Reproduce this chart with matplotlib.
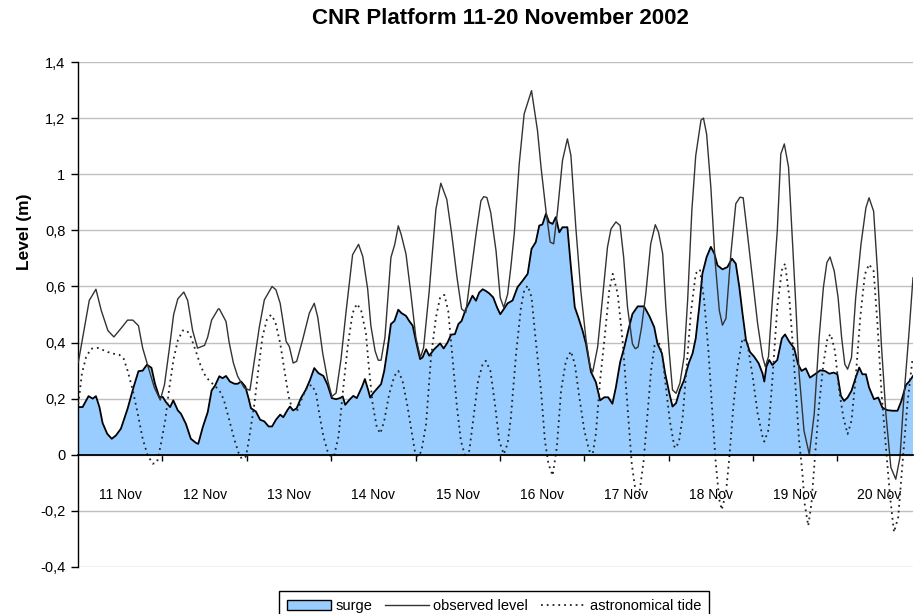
import matplotlib
matplotlib.use("Agg")
import matplotlib.pyplot as plt
from matplotlib.patches import Patch
from matplotlib.lines import Line2D

plt.rcParams['font.family'] = ['Liberation Sans', 'DejaVu Sans']

# ---------------- data (hours since 11 Nov 00:00, level in m) ----------------
obs_h = [0.1, 3.2, 5.1, 6.6, 8.5, 10.2, 12.2, 14.1, 15.6, 17.2, 18.4, 19.8, 21.7, 23.4, 24.6, 26.0,
         27.2, 28.4, 30.1, 31.2, 32.6, 34.0, 36.0, 36.9, 38.0, 39.9, 40.2, 42.1, 43.0, 44.2, 45.4,
         47.3, 48.9, 50.2, 51.6, 53.0, 55.2, 56.3, 57.5, 59.2, 60.1, 61.2, 62.2, 63.9, 65.8, 67.2,
         68.2, 69.6, 71.0, 72.2, 73.4, 74.8, 76.2, 78.1, 79.8, 81.0, 82.4, 83.3, 84.5, 85.4, 86.2,
         87.3, 89.0, 90.1, 91.1, 91.9, 93.3, 94.7, 96.1, 97.4, 98.3, 99.9, 101.8, 103.2, 104.9,
         106.3, 107.8, 109.1, 110.3, 111.8, 113.2, 114.6, 115.4, 116.3, 117.4, 118.9, 120.1, 121.1,
         122.2, 123.1, 124.1, 125.5, 126.9, 129.0, 130.7, 131.7, 133.1, 134.3, 135.3, 136.4, 137.8,
         139.2, 140.2, 141.6, 143.0, 144.5, 145.7, 146.4, 147.8, 149.2, 150.6, 151.6, 153.0, 154.2,
         155.2, 156.3, 157.7, 158.5, 159.3, 160.3, 161.5, 162.9, 164.2, 165.1, 166.3, 167.2, 168.2,
         169.1, 170.1, 171.2, 172.4, 173.4, 174.6, 175.7, 177.2, 177.9, 178.8, 180.0, 181.2, 182.4,
         183.3, 184.3, 185.7, 187.1, 188.3, 189.2, 190.4, 191.9, 193.3, 194.7, 195.5, 196.4, 197.5,
         198.9, 199.9, 200.9, 202.1, 203.2, 204.2, 205.1, 206.5, 208.0, 209.4, 210.8, 212.0, 213.0,
         213.9, 215.1, 216.2, 217.2, 218.1, 218.9, 220.0, 221.2, 222.7, 224.1, 225.0, 226.3, 227.4,
         228.5, 229.8, 231.2, 232.6, 233.8, 234.9, 236.4, 237.5]
obs_v = [0.33, 0.55, 0.59, 0.515, 0.443, 0.42, 0.45, 0.48, 0.48, 0.46, 0.38, 0.32, 0.24, 0.195, 0.25, 0.38,
         0.50, 0.556, 0.58, 0.55, 0.443, 0.38, 0.39, 0.42, 0.48, 0.52, 0.52, 0.475, 0.40, 0.327, 0.28,
         0.238, 0.23, 0.34, 0.457, 0.552, 0.60, 0.588, 0.54, 0.404, 0.386, 0.327, 0.333, 0.41, 0.505, 0.54,
         0.49, 0.362, 0.267, 0.208, 0.22, 0.34, 0.505, 0.713, 0.75, 0.707, 0.59, 0.46, 0.37, 0.337, 0.337,
         0.418, 0.703, 0.75, 0.816, 0.786, 0.715, 0.572, 0.418, 0.347, 0.382, 0.584, 0.875, 0.968, 0.91,
         0.786, 0.632, 0.52, 0.507, 0.65, 0.786, 0.905, 0.92, 0.917, 0.863, 0.727, 0.56, 0.525,
         0.572, 0.667, 0.79, 1.037, 1.215, 1.298, 1.155, 1.025, 0.87, 0.758, 0.752, 0.87, 1.049,
         1.126, 1.067, 0.81, 0.586, 0.41, 0.312, 0.295, 0.384, 0.56, 0.74, 0.805, 0.83, 0.817,
         0.704, 0.526, 0.395, 0.378, 0.384, 0.455, 0.574, 0.752, 0.82, 0.794, 0.717, 0.527, 0.361,
         0.231, 0.219, 0.255, 0.35, 0.551, 0.871, 1.066, 1.193, 1.2, 1.143, 0.954, 0.693, 0.515,
         0.462, 0.486, 0.717, 0.895, 0.918, 0.916, 0.788, 0.622, 0.468, 0.35, 0.314, 0.35, 0.551,
         0.80, 1.072, 1.108, 1.025, 0.764, 0.527, 0.29, 0.085, 0.002, 0.145, 0.418, 0.595, 0.685,
         0.705, 0.655, 0.56, 0.418, 0.323, 0.305, 0.346, 0.56, 0.75, 0.88, 0.916, 0.868, 0.655,
         0.394, 0.145, -0.045, -0.087, -0.009, 0.204, 0.441, 0.631]

surge_h = [0.1, 1.3, 3.0, 4.2, 5.1, 6.1, 7.0, 8.3, 9.6, 10.8, 12.2, 14.1, 15.8, 17.2, 18.4, 19.6, 20.9,
           21.9, 23.1, 24.1, 25.0, 26.2, 27.1, 28.4, 29.3, 30.7, 32.1, 33.6, 34.2, 35.5, 36.9, 38.0,
           39.0, 40.2, 41.1, 42.1, 43.2, 44.5, 45.4, 46.4, 47.6, 48.5, 49.2, 50.6, 51.8, 53.0, 54.2,
           55.2, 56.3, 57.5, 58.4, 59.6, 60.3, 61.2, 62.2, 63.4, 64.8, 66.0, 67.2, 68.4, 69.8, 71.0,
           72.2, 73.4, 74.5, 75.3, 76.0, 77.2, 78.3, 79.3, 80.8, 81.6, 82.6, 83.1, 84.1, 85.2, 86.2,
           87.1, 88.1, 89.0, 90.0, 91.1, 92.0, 93.3, 94.2, 95.2, 96.1, 97.3, 98.0, 99.0, 99.9, 101.3,
           103.0, 104.0, 105.1, 106.1, 107.2, 108.2, 109.1, 110.3, 111.3, 112.2, 113.2, 114.1, 115.1,
           116.0, 117.0, 118.1, 119.2, 120.1, 121.1, 122.2, 123.6, 125.0, 126.5, 127.9, 129.0, 130.2,
           131.2, 132.1, 133.1, 134.0, 135.0, 135.9, 136.9, 137.8, 139.2, 140.2, 141.3, 142.3, 143.5,
           144.5, 145.9, 147.3, 148.5, 149.7, 150.8, 152.0, 153.0, 154.2, 155.4, 156.5, 157.7, 159.2,
           161.0, 162.5, 163.9, 164.8, 166.1, 167.0, 168.2, 169.1, 170.1, 171.2, 172.4, 173.7, 174.8,
           175.7, 176.7, 177.6, 178.8, 180.0, 181.0, 181.9, 183.3, 184.7, 186.0, 187.1, 188.1, 189.0,
           190.0, 191.1, 192.3, 193.6, 194.7, 195.2, 195.8, 196.6, 197.5, 198.9, 200.2, 201.1, 202.3,
           203.7, 204.8, 205.8, 207.0, 208.2, 209.6, 211.1, 212.4, 213.7, 214.9, 216.0, 217.0, 217.9,
           218.9, 220.0, 221.2, 222.2, 223.1, 224.1, 225.0, 226.4, 227.6, 228.8, 230.2, 231.7, 233.1,
           234.2, 235.5, 236.4, 237.5]
surge_v = [0.17, 0.17, 0.209, 0.20, 0.209, 0.17, 0.113, 0.075, 0.057, 0.069, 0.093, 0.164, 0.241, 0.298,
           0.30, 0.321, 0.31, 0.253, 0.206, 0.206, 0.188, 0.17, 0.194, 0.158, 0.146, 0.11, 0.057, 0.042,
           0.039, 0.099, 0.152, 0.229, 0.247, 0.28, 0.273, 0.281, 0.261, 0.253, 0.253, 0.261, 0.243,
           0.202, 0.166, 0.154, 0.125, 0.119, 0.101, 0.101, 0.125, 0.143, 0.134, 0.16, 0.172, 0.158,
           0.166, 0.202, 0.232, 0.267, 0.309, 0.291, 0.281, 0.249, 0.202, 0.198, 0.202, 0.208, 0.178,
           0.196, 0.21, 0.202, 0.243, 0.27, 0.228, 0.204, 0.222, 0.238, 0.252, 0.299, 0.382, 0.466,
           0.477, 0.517, 0.505, 0.495, 0.477, 0.46, 0.406, 0.341, 0.347, 0.376, 0.353, 0.376, 0.397,
           0.379, 0.40, 0.428, 0.43, 0.466, 0.477, 0.519, 0.543, 0.567, 0.549, 0.578, 0.59, 0.584,
           0.575, 0.561, 0.525, 0.501, 0.519, 0.54, 0.55, 0.597, 0.621, 0.645, 0.734, 0.758, 0.817,
           0.821, 0.859, 0.829, 0.823, 0.847, 0.793, 0.811, 0.811, 0.669, 0.526, 0.49, 0.443, 0.395,
           0.295, 0.259, 0.194, 0.205, 0.205, 0.182, 0.241, 0.33, 0.384, 0.443, 0.502, 0.529, 0.529,
           0.495, 0.455, 0.397, 0.361, 0.29, 0.219, 0.172, 0.184, 0.231, 0.267, 0.326, 0.361, 0.415,
           0.527, 0.646, 0.705, 0.741, 0.717, 0.675, 0.661, 0.669, 0.699, 0.681, 0.598, 0.504, 0.409,
           0.367, 0.35, 0.326, 0.29, 0.261, 0.314, 0.338, 0.32, 0.338, 0.415, 0.429, 0.403, 0.38,
           0.323, 0.299, 0.308, 0.275, 0.287, 0.301, 0.299, 0.289, 0.293, 0.287, 0.21, 0.192, 0.204,
           0.228, 0.275, 0.311, 0.287, 0.287, 0.24, 0.198, 0.204, 0.168, 0.159, 0.157, 0.157, 0.192,
           0.249, 0.261, 0.281]

tide_h = [0.1, 1.1, 2.3, 3.7, 5.6, 7.0, 8.5, 10.2, 11.8, 13.0, 14.1, 15.6, 17.0, 18.4, 19.8, 21.3, 22.5,
          23.6, 24.8, 26.0, 27.2, 28.4, 29.8, 31.0, 32.1, 33.6, 35.0, 36.4, 37.8, 39.3, 40.7, 41.6,
          43.0, 44.5, 45.7, 46.6, 47.8, 48.9, 50.2, 51.4, 52.5, 53.7, 54.9, 56.1, 57.5, 58.7, 59.9,
          61.0, 62.5, 63.9, 65.3, 66.5, 67.7, 68.6, 69.8, 71.0, 72.0, 72.9, 74.1, 75.3, 76.7, 78.1,
          79.3, 80.5, 81.9, 82.6, 83.8, 85.0, 86.0, 87.1, 88.5, 90.0, 91.1, 92.3, 93.6, 94.7, 95.8,
          96.8, 97.7, 99.0, 100.4, 101.8, 103.0, 104.2, 105.3, 106.5, 107.8, 108.9, 110.0, 111.3,
          112.5, 113.8, 115.1, 116.0, 117.3, 118.6, 119.8, 121.1, 122.2, 123.1, 124.6, 126.0, 126.9,
          127.9, 129.0, 130.2, 131.7, 132.8, 133.8, 135.0, 136.2, 137.4, 138.8, 140.2, 141.3, 142.6,
          144.0, 145.4, 146.4, 147.3, 148.5, 149.7, 151.1, 152.1, 153.5, 154.9, 156.1, 157.5, 158.7,
          159.6, 160.9, 162.0, 163.0, 164.0, 165.0, 166.1, 167.2, 168.3, 169.6, 170.1, 171.0, 172.0,
          173.1, 174.3, 175.7, 176.9, 178.1, 179.3, 180.5, 181.4, 182.4, 183.1, 184.3, 185.2, 186.4,
          187.6, 189.0, 190.4, 191.9, 193.3, 194.7, 195.2, 196.4, 197.5, 198.9, 200.2, 201.1, 202.3,
          203.2, 204.2, 205.1, 206.0, 206.7, 207.7, 208.6, 209.6, 210.8, 212.0, 213.2, 214.1, 215.3,
          216.5, 217.7, 218.9, 220.0, 221.2, 222.5, 223.8, 225.0, 226.3, 227.4, 228.5, 229.8, 231.0,
          232.1, 233.3, 234.5, 235.9, 237.4]
tide_v = [0.18, 0.289, 0.348, 0.378, 0.381, 0.374, 0.366, 0.36, 0.356, 0.342, 0.30, 0.229, 0.146, 0.057,
          -0.002, -0.032, -0.026, 0.039, 0.122, 0.241, 0.342, 0.408, 0.443, 0.443, 0.42, 0.366, 0.313,
          0.277, 0.259, 0.241, 0.22, 0.19, 0.125, 0.053, 0.006, -0.015, -0.006, 0.077, 0.184, 0.315,
          0.422, 0.481, 0.499, 0.475, 0.398, 0.303, 0.208, 0.16, 0.16, 0.208, 0.243, 0.249, 0.22,
          0.148, 0.065, 0.012, -0.008, 0.0, 0.065, 0.22, 0.386, 0.505, 0.538, 0.517, 0.433, 0.33,
          0.181, 0.097, 0.076, 0.121, 0.216, 0.281, 0.299, 0.264, 0.181, 0.097, 0.014, -0.007, 0.014,
          0.109, 0.347, 0.489, 0.561, 0.57, 0.513, 0.347, 0.169, 0.05, 0.0, 0.014, 0.133, 0.264,
          0.323, 0.335, 0.299, 0.181, 0.05, 0.002, 0.04, 0.13, 0.36, 0.526, 0.585, 0.603, 0.562,
          0.407, 0.229, 0.051, -0.032, -0.074, 0.027, 0.229, 0.336, 0.369, 0.324, 0.205, 0.087,
          0.015, 0.004, 0.075, 0.265, 0.407, 0.585, 0.645, 0.574, 0.407, 0.205, -0.032, -0.139,
          -0.145, -0.02, 0.146, 0.30, 0.39, 0.41, 0.361, 0.243, 0.124, 0.03, 0.024, 0.053, 0.136,
          0.314, 0.504, 0.646, 0.66, 0.551, 0.373, 0.136, -0.03, -0.16, -0.196, -0.136, -0.018,
          0.172, 0.314, 0.415, 0.397, 0.278, 0.148, 0.065, 0.047, 0.089, 0.267, 0.527, 0.658, 0.681,
          0.563, 0.409, 0.219, 0.05, -0.06, -0.176, -0.253, -0.176, -0.009, 0.18, 0.323, 0.418, 0.43,
          0.37, 0.228, 0.133, 0.074, 0.121, 0.275, 0.489, 0.643, 0.679, 0.655, 0.465, 0.228, 0.026,
          -0.152, -0.276, -0.222, -0.033, 0.18, 0.346]

day_labels = ['11 Nov', '12 Nov', '13 Nov', '14 Nov', '15 Nov',
              '16 Nov', '17 Nov', '18 Nov', '19 Nov', '20 Nov']
y_ticks = [-0.4, -0.2, 0.0, 0.2, 0.4, 0.6, 0.8, 1.0, 1.2, 1.4]
y_tick_labels = ['-0,4', '-0,2', '0', '0,2', '0,4', '0,6', '0,8', '1', '1,2', '1,4']

title = 'CNR Platform 11-20 November 2002'
ylabel = 'Level (m)'
legend_labels = ['surge', 'observed level', 'astronomical tide']

# ---------------- figure ----------------
W, H = 914, 614
fig = plt.figure(figsize=(W / 100, H / 100), dpi=100)
ax = fig.add_axes([78 / W, 47 / H, (913 - 78) / W, (567 - 62) / H])

fill_color = '#99CCFF'
ax.fill_between(surge_h, surge_v, 0, facecolor=fill_color, edgecolor='none', zorder=2)
ax.plot(surge_h, surge_v, color='black', lw=1.3, zorder=3)
ax.plot(obs_h, obs_v, color='#333333', lw=1.0, zorder=4)
ax.plot(tide_h, tide_v, color='#222222', lw=1.3, linestyle=(0, (1, 2.2)), zorder=5)

ax.set_xlim(0, 237.5)
ax.set_ylim(-0.4, 1.4)

ax.set_yticks(y_ticks)
ax.set_yticklabels(y_tick_labels, fontsize=10.5)
ax.tick_params(axis='y', direction='out', length=5, width=1, color='black', pad=4)

n_days = len(day_labels)
ax.set_xticks([24 * (i + 1) for i in range(n_days - 1)])
ax.set_xticklabels([])
ax.set_xticks([24 * i + 12 for i in range(n_days)], minor=True)
ax.set_xticklabels(day_labels, minor=True, fontsize=10.5)
ax.tick_params(axis='x', which='major', direction='inout', length=9, width=1, color='black')
ax.tick_params(axis='x', which='minor', length=0, pad=24)

ax.spines['top'].set_visible(False)
ax.spines['right'].set_visible(False)
ax.spines['bottom'].set_position(('data', 0))
ax.spines['bottom'].set_linewidth(1.3)
ax.spines['bottom'].set_zorder(6)
ax.spines['left'].set_linewidth(1.0)

ax.yaxis.grid(True, color='#C0C0C0', lw=1.0, zorder=0)
ax.set_axisbelow(True)

fig.text(500 / W, 1 - 18 / H, title, ha='center', va='center', fontsize=16, fontweight='bold')
fig.text(25 / W, 1 - 232 / H, ylabel, ha='center', va='center', rotation=90,
         fontsize=12.5, fontweight='bold')

handles = [Patch(facecolor=fill_color, edgecolor='black', lw=1.0),
           Line2D([], [], color='#333333', lw=1.0),
           Line2D([], [], color='#222222', lw=1.3, linestyle=(0, (1, 2.2)))]
leg = fig.legend(handles, legend_labels, loc='lower center', bbox_to_anchor=(494 / W, -0.012),
                 ncol=3, fontsize=10.5, frameon=True, fancybox=False, shadow=False,
                 edgecolor='black', framealpha=1, borderpad=0.55, handlelength=3.0,
                 handletextpad=0.3, columnspacing=0.9, borderaxespad=0.0)
leg.get_frame().set_linewidth(1.0)

fig.savefig('out.png', dpi=100)
